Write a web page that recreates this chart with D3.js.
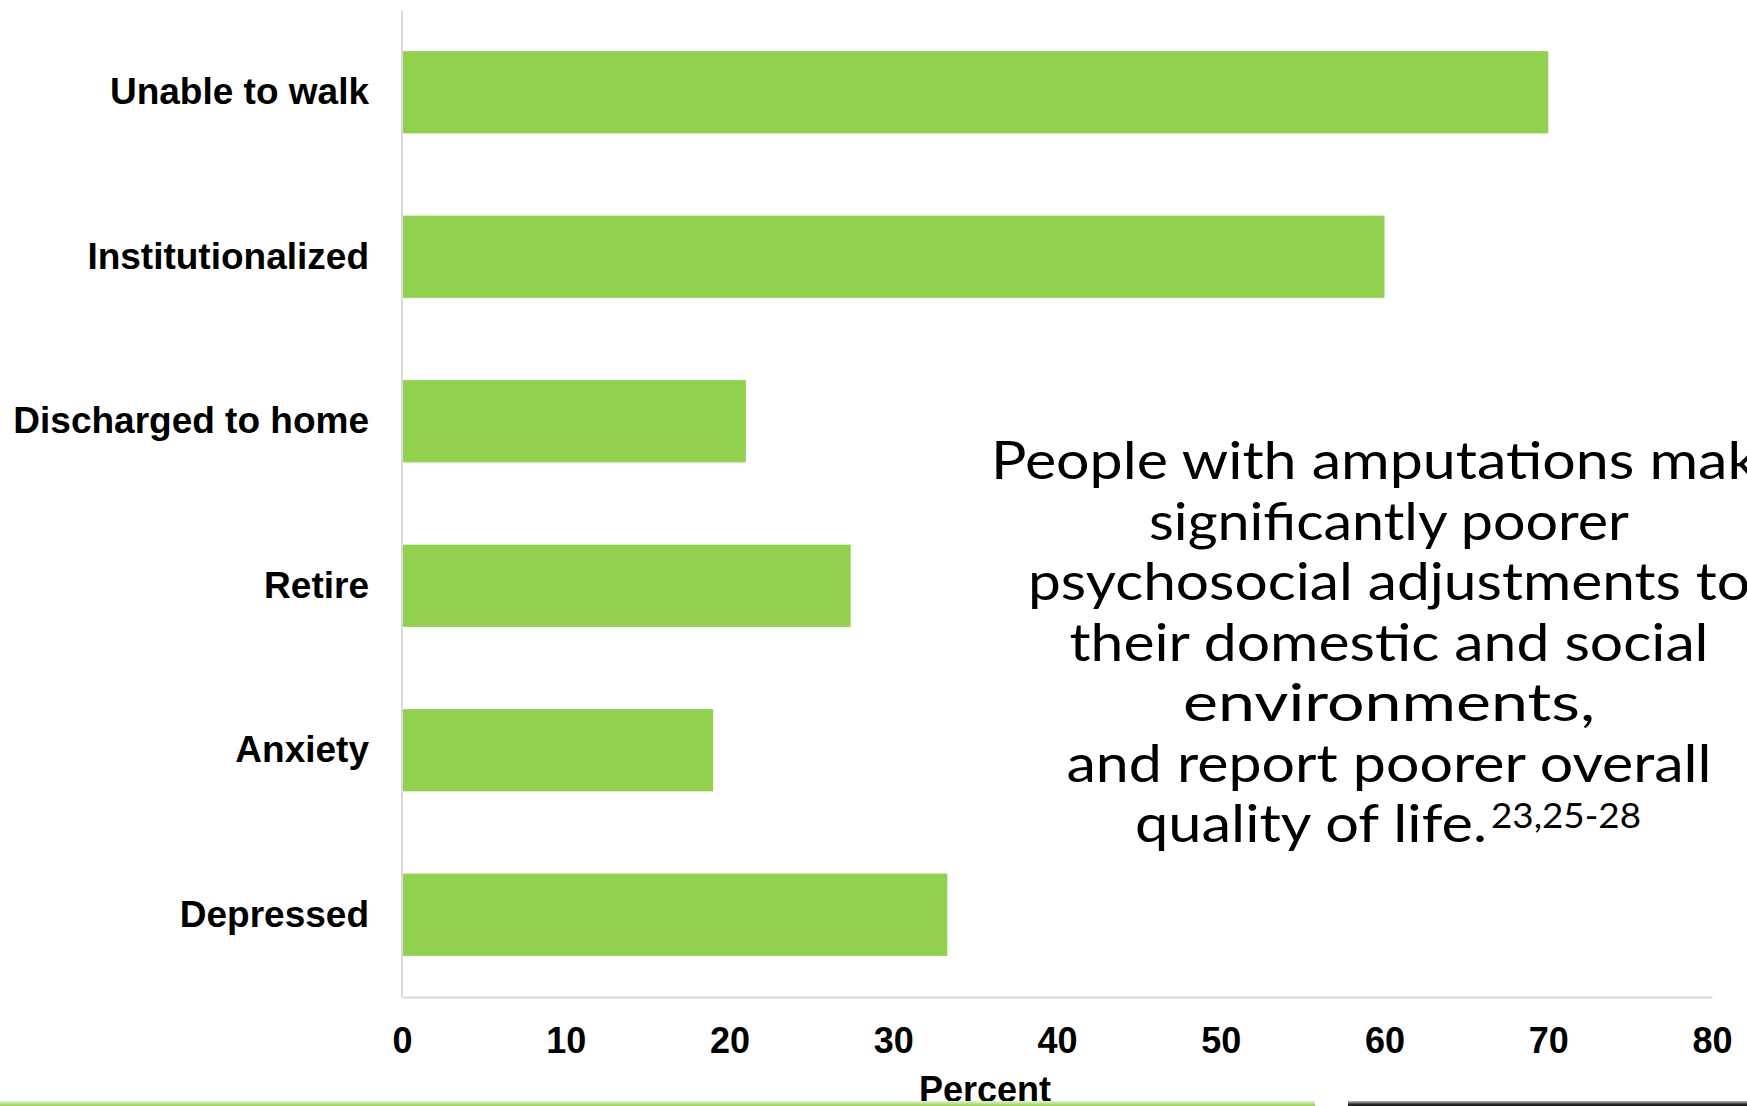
<!DOCTYPE html>
<html>
<head>
<meta charset="utf-8">
<script src="https://cdn.jsdelivr.net/npm/d3@7/dist/d3.min.js"></script>
<style>
  html, body { margin: 0; padding: 0; background: #ffffff; overflow: hidden; }
  svg { display: block; }
</style>
</head>
<body>
<svg id="chart" width="1747" height="1106"></svg>
<script>
// Outcomes after amputation, percent of people
const categories = ["Unable to walk", "Institutionalized", "Discharged to home", "Retire", "Anxiety", "Depressed"];
const percents = [70, 60, 21, 27.4, 19, 33.3];
const xTicks = [0, 10, 20, 30, 40, 50, 60, 70, 80];
const xTitle = "Percent";

// Side note, one entry per line
const noteLines = [
  "People with amputations make",
  "significantly poorer",
  "psychosocial adjustments to",
  "their domestic and social",
  "environments,",
  "and report poorer overall",
  "quality of life."
];
const noteRefs = "23,25-28";

// Layout
const W = 1747, H = 1106;
const plot = { left: 402, right: 1712, top: 10, bottom: 997 };
const barColor = "#92d050";
const axisColor = "#d9d9d9";
const labelFont = "'Liberation Sans', Arial, sans-serif";
const noteFont = "Lato, 'Open Sans', sans-serif";
const noteLineWidths = [796, 480, 722, 639, 412, 645, 352];

const svg = d3.select("#chart");

const x = d3.scaleLinear().domain([0, 80]).range([plot.left, plot.right]);
const y = d3.scaleBand().domain(categories).range([plot.top, plot.bottom])
  .paddingInner(0.5).paddingOuter(0.25);

// Bars
svg.append("g").selectAll("rect")
  .data(categories.map((c, i) => ({ c, v: percents[i] })))
  .join("rect")
  .attr("x", x(0))
  .attr("y", d => y(d.c))
  .attr("width", d => x(d.v) - x(0))
  .attr("height", y.bandwidth())
  .attr("fill", barColor);

// Bottom axis
const gx = svg.append("g")
  .attr("transform", `translate(0,${plot.bottom})`)
  .call(d3.axisBottom(x).tickValues(xTicks).tickFormat(d3.format("d"))
    .tickSize(0).tickSizeOuter(0).tickPadding(30));
gx.select(".domain").attr("stroke", axisColor).attr("stroke-width", 2);
gx.selectAll("text")
  .attr("fill", "#000")
  .style("font-family", labelFont)
  .style("font-weight", "bold")
  .style("font-size", "36px");

// Left axis
const gy = svg.append("g")
  .attr("transform", `translate(${plot.left - 0.5},0)`)
  .call(d3.axisLeft(y).tickSize(0).tickSizeOuter(0).tickPadding(32.5));
gy.select(".domain").attr("stroke", axisColor).attr("stroke-width", 2);
gy.selectAll("text")
  .attr("fill", "#000")
  .style("font-family", labelFont)
  .style("font-weight", "bold")
  .style("font-size", "37px");

// Axis title
svg.append("text")
  .attr("x", 985)
  .attr("y", 1102)
  .attr("text-anchor", "middle")
  .attr("fill", "#000")
  .style("font-family", labelFont)
  .style("font-weight", "bold")
  .style("font-size", "36px")
  .text(xTitle);

// Side note text, centred block
const noteCx = 1389, noteTop = 479, noteStep = 60.5;
const note = svg.append("g")
  .style("font-family", noteFont)
  .style("font-size", "52px")
  .attr("fill", "#000");

noteLines.forEach((line, i) => {
  const last = i === noteLines.length - 1;
  note.append("text")
    .attr("x", last ? 1135 : noteCx)
    .attr("y", noteTop + i * noteStep)
    .attr("text-anchor", last ? "start" : "middle")
    .attr("textLength", noteLineWidths[i])
    .attr("lengthAdjust", "spacingAndGlyphs")
    .text(line);
});

note.append("text")
  .attr("x", 1491)
  .attr("y", noteTop + 6 * noteStep - 14)
  .attr("text-anchor", "start")
  .attr("textLength", 150)
  .attr("lengthAdjust", "spacingAndGlyphs")
  .style("font-size", "34px")
  .text(noteRefs);

// Slide footer rules
const defs = svg.append("defs");
const gg = defs.append("linearGradient").attr("id", "footGreen")
  .attr("x1", 0).attr("y1", 0).attr("x2", 0).attr("y2", 1);
gg.append("stop").attr("offset", "0%").attr("stop-color", "#e4f2d6");
gg.append("stop").attr("offset", "100%").attr("stop-color", "#92d050");
svg.append("rect").attr("x", 0).attr("y", 1101).attr("width", 1315).attr("height", 5)
  .attr("fill", "url(#footGreen)");

const gd = defs.append("linearGradient").attr("id", "footDark")
  .attr("x1", 0).attr("y1", 0).attr("x2", 0).attr("y2", 1);
gd.append("stop").attr("offset", "0%").attr("stop-color", "#c8c8c8");
gd.append("stop").attr("offset", "60%").attr("stop-color", "#333");
gd.append("stop").attr("offset", "100%").attr("stop-color", "#111");
svg.append("rect").attr("x", 1348).attr("y", 1101).attr("width", W - 1348).attr("height", 5)
  .attr("fill", "url(#footDark)");
</script>
</body>
</html>
